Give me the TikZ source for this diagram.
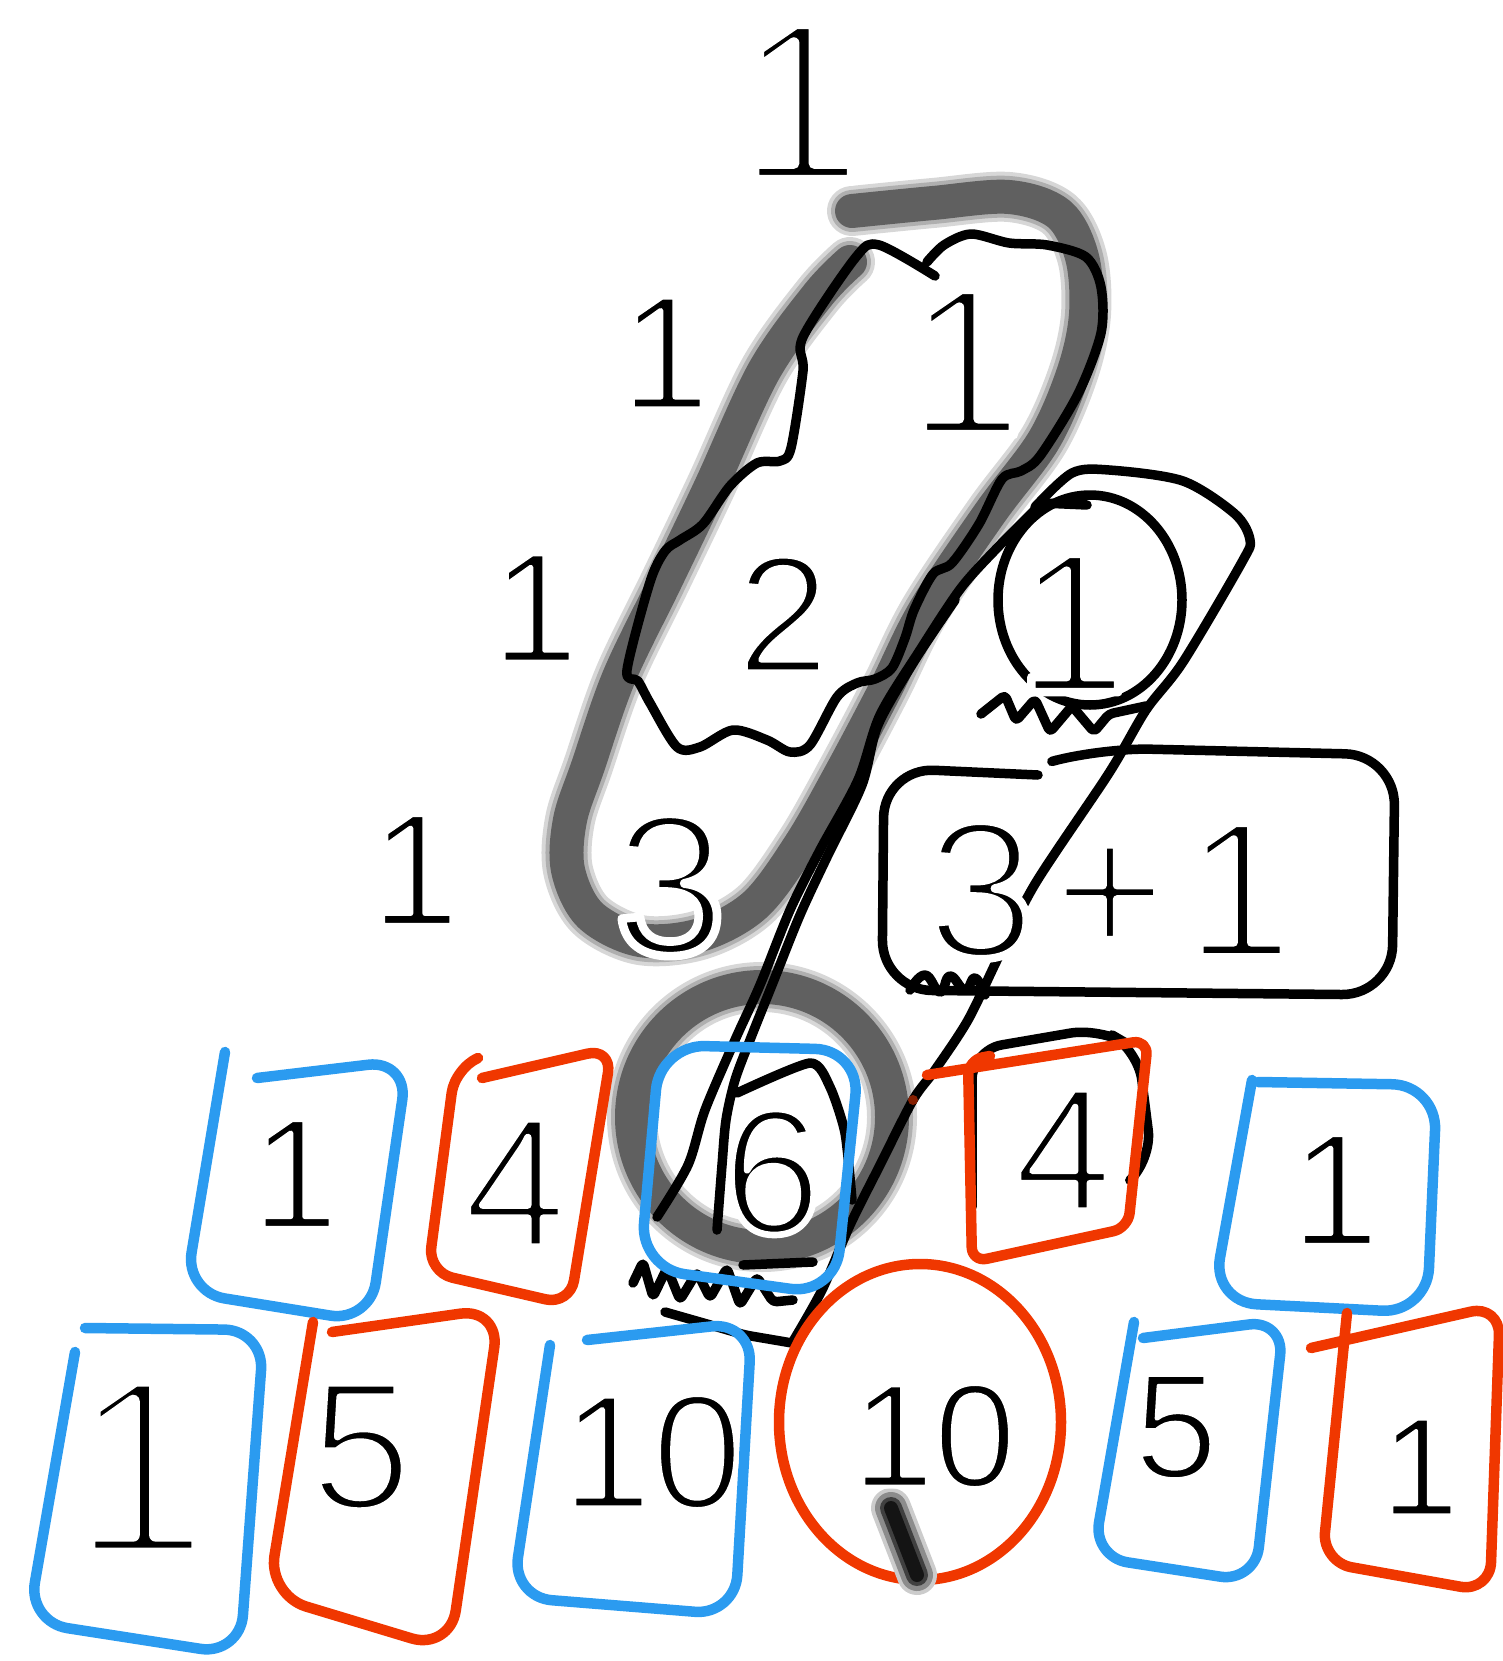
\documentclass[tikz,border=0pt]{standalone}
\usepackage{fontspec}
\setmainfont{Liberation Sans}
\definecolor{penblue}{RGB}{43,155,240}
\definecolor{penred}{RGB}{240,55,0}
\definecolor{pengray}{RGB}{96,96,96}
% thinner handwritten-looking digits: white outline stroke, scaled to the size
\newcommand\thinon[1]{\pgfmathsetmacro\thinw{max(0.085*#1-8.5,1)}%
  \special{pdf:literal direct 2 Tr 1 1 1 RG 1 j 1 J \thinw\space w}}
\newcommand\thinoff{\special{pdf:literal direct 0 Tr 0 0 0 RG 1 w}}

\begin{document}
\begin{tikzpicture}[x=1pt,y=-1pt,
  ink/.style={line width=9.5pt, line cap=round, line join=round},
  bluebox/.style={ink, draw=penblue, line width=10.5pt, rounded corners=40pt},
  redbox/.style={ink, draw=penred, line width=10.5pt, rounded corners=40pt},
  num/.style={font=\fontsize{#1}{#1}\selectfont, inner sep=0pt,
    execute at begin node=\thinon{#1}, execute at end node=\thinoff}]
\useasboundingbox (0,0) rectangle (1502,1661);

% gray marker: 1+2+3 and the 6
\foreach \w/\c in {50/25,42/50,34/100}{
  \draw[line width=\w pt, draw=pengray!\c, line cap=round, line join=round]
    plot[smooth, tension=0.55] coordinates {(852,211) (933,203) (1009,197) (1059,214) (1082,257) (1086,314) (1074,371) (1044,440) (990,513) (925,610) (885,690) (840,775) (800,845) (755,905) (700,935) (640,940) (590,915) (568,870) (570,820) (588,766) (619,677) (665,582) (711,486) (764,371) (818,295) (850,262)};
  \draw[line width=\w pt, draw=pengray!\c] (762,1117) ellipse [x radius=130pt, y radius=130pt];
}

% wavy outline round 1 and 2
\draw[ink] plot[smooth, tension=0.5] coordinates {(935,276) (879,245) (856,257) (803,337) (803,371) (791,448) (780,461) (757,463) (730,486) (703,524) (680,540) (665,551) (650,582) (627,670) (638,681) (650,703) (677,747) (700,747) (733,730) (767,740) (790,752) (810,745) (837,697) (857,683) (875,679) (892,668) (905,638) (914,610) (933,574) (952,563) (979,524) (1002,479) (1021,471) (1040,456) (1078,394) (1101,333) (1101,287) (1086,257) (1047,245) (1009,243) (971,234) (944,245) (927,262)};

% long outline: circled 1, 3, 6
\draw[ink] plot[smooth, tension=0.5] coordinates {(1042,503) (1000,545) (961,588) (920,650) (880,715) (858,780) (820,850) (790,910) (760,985) (735,1040) (705,1110) (688,1165) (657,1217)};
\draw[ink] plot[smooth, tension=0.5] coordinates {(955,600) (915,660) (878,725) (862,785) (828,855) (800,915) (772,985) (750,1040) (735,1080) (726,1120) (722,1165) (717,1230)};
\draw[ink] (1042,503) -- (1087,505);
\draw[ink] plot[smooth, tension=0.5] coordinates {(1035,507) (1072,473) (1109,470) (1183,481) (1235,514) (1250,540) (1242,562) (1183,662) (1146,710) (1109,773) (1035,884) (998,958) (968,1020) (935,1070) (913,1100) (880,1165) (850,1225) (822,1290) (792,1343)};
\draw[ink, rounded corners=6pt] (792,1343) -- (745,1335) -- (700,1322) -- (665,1312);
\draw[ink] (1090,600) ellipse [x radius=92pt, y radius=105pt];
\draw[ink, rounded corners=4pt] (981,714) -- (1005,695) -- (1016,721) -- (1035,699) -- (1050,732) -- (1072,706) -- (1094,732) -- (1109,714) -- (1146,706);

% 3+1 box
\draw[ink, rounded corners=50pt] (1057,760) -- (1100,748) -- (1395,755) -- (1392,995) -- (882,990) -- (884,768) -- (1038,775);
\draw[ink] plot[smooth, tension=0.8] coordinates {(910,990) (925,975) (940,992) (950,976) (965,990) (975,978) (985,995)};

% black marks round the 6 and the right 4
\draw[ink] plot[smooth, tension=0.4] coordinates {(737,1093) (810,1063) (830,1087) (845,1133) (852,1200)};
\draw[ink] (743,1265) -- (813,1262);
\draw[ink, rounded corners=4pt] (633,1283) -- (643,1262) -- (653,1297) -- (667,1268) -- (680,1300) -- (697,1272) -- (710,1298) -- (727,1268) -- (740,1305) -- (757,1277) -- (773,1302) -- (793,1300);
\draw[ink, rounded corners=30pt] (972,1207) -- (972,1050) -- (1100,1028) -- (1138,1050) -- (1152,1160) -- (1130,1180);

% row 4 boxes
\draw[bluebox] (225,1052) -- (185,1292) -- (370,1322) -- (408,1060) -- (257,1078);
\draw[redbox, rounded corners=25pt] (478,1058) -- (455,1068) -- (428,1272) -- (570,1305) -- (612,1048) -- (482,1078);
\draw[bluebox, rounded corners=45pt] (660,1045) -- (860,1050) -- (835,1295) -- (640,1268) -- cycle;
\draw[redbox, rounded corners=15pt] (927,1075) -- (1148,1040) -- (1128,1228) -- (972,1262) -- (968,1060) -- (990,1056);
\fill[penred!55!black] (913,1100) circle [radius=5pt];
\draw[bluebox, rounded corners=45pt] (1252,1080) -- (1212,1302) -- (1427,1313) -- (1437,1085) -- (1258,1082);

% row 5 boxes
\draw[bluebox] (75,1352) -- (28,1622) -- (240,1655) -- (264,1330) -- (85,1328);
\draw[redbox] (313,1322) -- (268,1595) -- (450,1650) -- (500,1308) -- (332,1332);
\draw[bluebox] (550,1345) -- (512,1597) -- (735,1615) -- (752,1322) -- (587,1340);
\draw[ink, draw=penred, line width=10.5pt] (920,1422) ellipse [x radius=141pt, y radius=158pt];
\foreach \w/\c in {40/20,32/45,22/75,14/92}
  \draw[line width=\w pt, black!\c, line cap=round] (891,1508) -- (917,1575);
\draw[bluebox, rounded corners=35pt] (1134,1322) -- (1093,1557) -- (1255,1582) -- (1284,1320) -- (1143,1338);
\draw[redbox, rounded corners=30pt] (1311,1348) -- (1500,1305) -- (1490,1592) -- (1322,1562) -- (1347,1313);

% the numbers
\node[num=228] (r0) at (800,102) {1};
\node[num=163] (r1a) at (665,353) {1};
\node[num=211] (r1b) at (965,362) {1};
\node[num=157] (r2a) at (535,608) {1};
\node[num=167] (r2b) at (783,614) {2};
\node[num=201] (r2c) at (1072,623) {1};
\node[num=161] (r3a) at (415,870) {1};
\node[num=201] (r3b) at (670,885) {3};
\node[num=195] (r3sum) at (1110,890) {3\hspace{18pt}+\hspace{18pt}1};
\node[num=158] (r4a) at (295,1174) {1};
\node[num=186] (r4b) at (515,1183) {4};
\node[num=178] (r4c) at (772,1172) {6};
\node[num=176] (r4d) at (1063,1150) {4};
\node[num=161] (r4e) at (1335,1190) {1};
\node[num=253] (r5a) at (140,1467) {1};
\node[num=183] (r5b) at (361,1447) {5};
\node[num=163] (r5c) at (652,1452) {10};
\node[num=147] (r5d) at (934,1436) {10};
\node[num=150] (r5e) at (1176,1427) {5};
\node[num=140] (r5f) at (1420,1467) {1};
\end{tikzpicture}
\end{document}
